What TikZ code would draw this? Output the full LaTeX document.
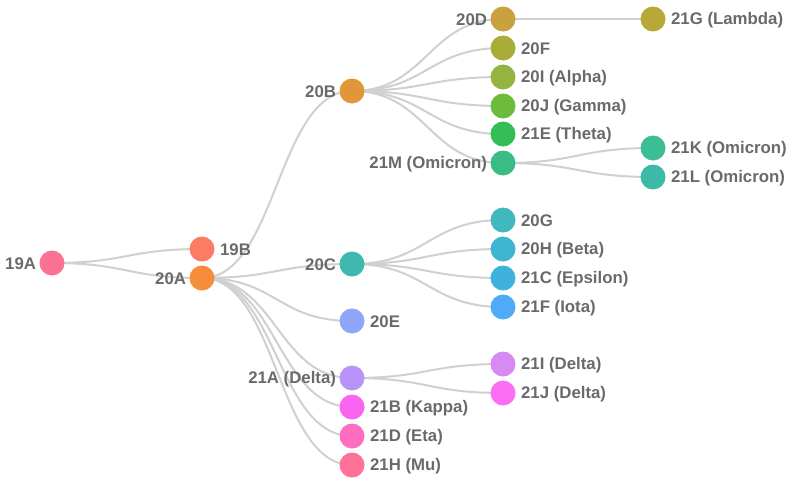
\documentclass[tikz,border=0pt]{standalone}
\usepackage{fontspec}
\setmainfont{Liberation Sans}
\usetikzlibrary{backgrounds}
\definecolor{txt}{HTML}{6A6A6A}
\definecolor{lnk}{HTML}{D0D0D0}
\definecolor{c19A}{HTML}{FB7193}
\definecolor{c19B}{HTML}{FB7C64}
\definecolor{c20A}{HTML}{F58D3A}
\definecolor{c20B}{HTML}{E0973A}
\definecolor{c20D}{HTML}{C9A23E}
\definecolor{c21G}{HTML}{B8A838}
\definecolor{c20F}{HTML}{A8AD38}
\definecolor{c20I}{HTML}{93B43E}
\definecolor{c20J}{HTML}{6CBB3C}
\definecolor{c21E}{HTML}{33BD55}
\definecolor{c21M}{HTML}{3ABD84}
\definecolor{c21K}{HTML}{3CBD96}
\definecolor{c21L}{HTML}{3CBAA8}
\definecolor{c20C}{HTML}{3FB8AE}
\definecolor{c20G}{HTML}{41B7BE}
\definecolor{c20H}{HTML}{40B5CF}
\definecolor{c21C}{HTML}{3FB1DD}
\definecolor{c21F}{HTML}{4FAAF8}
\definecolor{c20E}{HTML}{90A4F8}
\definecolor{c21A}{HTML}{B894F9}
\definecolor{c21I}{HTML}{D88AF4}
\definecolor{c21J}{HTML}{FC6EF5}
\definecolor{c21B}{HTML}{FB64EE}
\definecolor{c21D}{HTML}{FE6EC0}
\definecolor{c21H}{HTML}{FE7299}
\begin{document}
\begin{tikzpicture}[x=0.75pt,y=-0.75pt,
  dot/.style={circle,inner sep=0pt,minimum size=18.75pt,fill=#1},
  lbl/.style={text=txt,font=\bfseries\fontsize{12.6}{14}\selectfont,inner sep=0pt,label distance=3.8pt,yshift=-0.8pt},
  lbll/.style={lbl,label distance=2.2pt},
  link/.style={draw=lnk,line width=1.5pt}]
\useasboundingbox (0,0) rectangle (800,486);
\node[dot=c19A,label={[lbll]left:19A}] (n19A) at (52,263) {};
\node[dot=c19B,label={[lbl]right:19B}] (n19B) at (202,249) {};
\node[dot=c20A,label={[lbll]left:20A}] (n20A) at (202,278) {};
\node[dot=c20B,label={[lbll]left:20B}] (n20B) at (352,91) {};
\node[dot=c20C,label={[lbll]left:20C}] (n20C) at (352,264) {};
\node[dot=c20E,label={[lbl]right:20E}] (n20E) at (352,321) {};
\node[dot=c21A,label={[lbll]left:21A (Delta)}] (n21A) at (352,378) {};
\node[dot=c21B,label={[lbl]right:21B (Kappa)}] (n21B) at (352,407) {};
\node[dot=c21D,label={[lbl]right:21D (Eta)}] (n21D) at (352,436) {};
\node[dot=c21H,label={[lbl]right:21H (Mu)}] (n21H) at (352,465) {};
\node[dot=c20D,label={[lbll]left:20D}] (n20D) at (503,19) {};
\node[dot=c20F,label={[lbl]right:20F}] (n20F) at (503,48) {};
\node[dot=c20I,label={[lbl]right:20I (Alpha)}] (n20I) at (503,77) {};
\node[dot=c20J,label={[lbl]right:20J (Gamma)}] (n20J) at (503,106) {};
\node[dot=c21E,label={[lbl]right:21E (Theta)}] (n21E) at (503,134) {};
\node[dot=c21M,label={[lbll]left:21M (Omicron)}] (n21M) at (503,163) {};
\node[dot=c20G,label={[lbl]right:20G}] (n20G) at (503,220) {};
\node[dot=c20H,label={[lbl]right:20H (Beta)}] (n20H) at (503,249) {};
\node[dot=c21C,label={[lbl]right:21C (Epsilon)}] (n21C) at (503,278) {};
\node[dot=c21F,label={[lbl]right:21F (Iota)}] (n21F) at (503,307) {};
\node[dot=c21I,label={[lbl]right:21I (Delta)}] (n21I) at (503,364) {};
\node[dot=c21J,label={[lbl]right:21J (Delta)}] (n21J) at (503,393) {};
\node[dot=c21G,label={[lbl]right:21G (Lambda)}] (n21G) at (653,19) {};
\node[dot=c21K,label={[lbl]right:21K (Omicron)}] (n21K) at (653,148) {};
\node[dot=c21L,label={[lbl]right:21L (Omicron)}] (n21L) at (653,177) {};
\begin{scope}[on background layer]
\foreach \a/\b in {19A/19B,19A/20A,
  20A/20B,20A/20C,20A/20E,20A/21A,20A/21B,20A/21D,20A/21H,
  20B/20D,20B/20F,20B/20I,20B/20J,20B/21E,20B/21M,
  20C/20G,20C/20H,20C/21C,20C/21F,
  21A/21I,21A/21J,
  20D/21G,21M/21K,21M/21L}
  \draw[link] (n\a.center) .. controls +(75,0) and +(-75,0) .. (n\b.center);
\end{scope}
\end{tikzpicture}
\end{document}
